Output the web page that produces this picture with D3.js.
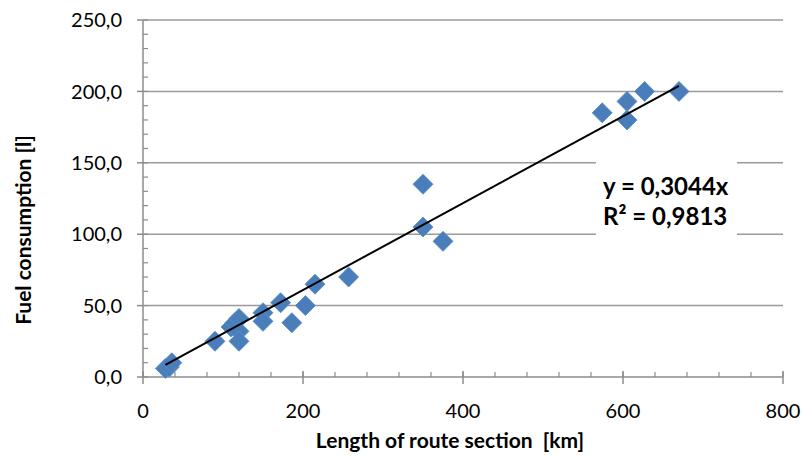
<!DOCTYPE html>
<html lang="en">
<head>
<meta charset="utf-8">
<script src="https://d3js.org/d3.v7.min.js"></script>
<style type="text/css">
body { margin: 0; background: #fff; }
.tick-label { font: 20px Lato, sans-serif; fill: #000; }
.axis-title { font: bold 21px Lato, sans-serif; fill: #000; white-space: pre; }
.eq { font: bold 24px Lato, sans-serif; fill: #000; }
</style>
</head>
<body>
<div id="chart"></div>
<script type="text/javascript">

// route length [km] and fuel used [l]
var routeKm = [28, 33, 36, 90, 110, 115, 120, 120, 120, 150, 150, 172, 186, 203, 215, 257, 350, 350, 375, 574, 605, 605, 627, 670];
var fuelL   = [6, 7, 10, 25, 35, 38, 41, 32, 25, 45, 39, 52, 38, 50, 65, 70, 135, 105, 95, 185, 193, 180, 200, 200];

var xTicks = [0, 200, 400, 600, 800];
var yTicks = [0, 50, 100, 150, 200, 250];
var xMinor = d3.range(0, 801, 40);
var yMinor = d3.range(0, 251, 10);

var slope = 0.3044;
var eqLines = ["y = 0,3044x", "R\u00b2 = 0,9813"];

var width = 802, height = 457;
var plotL = 143, plotR = 783, plotT = 20, plotB = 377;
var axisColor = "#8c8c8c";

var svg = d3.select("#chart").append("svg")
  .attr("width", width)
  .attr("height", height);

var x = d3.scaleLinear().domain([0, 800]).range([plotL, plotR]);
var y = d3.scaleLinear().domain([0, 250]).range([plotB, plotT]);

var fmt = function(d) { return d3.format(".1f")(d).replace(".", ","); };

// horizontal gridlines
svg.selectAll("line.grid")
  .data(yTicks.filter(function(d) { return d > 0; }))
  .enter().append("line")
  .attr("class", "grid")
  .attr("x1", plotL).attr("x2", plotR)
  .attr("y1", function(d) { return y(d); })
  .attr("y2", function(d) { return y(d); })
  .style("stroke", "#9a9a9a")
  .style("stroke-width", 1.5);

// minor ticks, inside the plot
svg.selectAll("line.ym")
  .data(yMinor)
  .enter().append("line")
  .attr("class", "ym")
  .attr("x1", plotL).attr("x2", plotL + 5)
  .attr("y1", function(d) { return y(d); })
  .attr("y2", function(d) { return y(d); })
  .style("stroke", axisColor).style("stroke-width", 1.2);

svg.selectAll("line.xm")
  .data(xMinor)
  .enter().append("line")
  .attr("class", "xm")
  .attr("x1", function(d) { return x(d); })
  .attr("x2", function(d) { return x(d); })
  .attr("y1", plotB).attr("y2", plotB - 5)
  .style("stroke", axisColor).style("stroke-width", 1.2);

// major ticks
svg.selectAll("line.yM")
  .data(yTicks)
  .enter().append("line")
  .attr("class", "yM")
  .attr("x1", plotL - 6).attr("x2", plotL)
  .attr("y1", function(d) { return y(d); })
  .attr("y2", function(d) { return y(d); })
  .style("stroke", axisColor).style("stroke-width", 1.5);

svg.selectAll("line.xM")
  .data(xTicks)
  .enter().append("line")
  .attr("class", "xM")
  .attr("x1", function(d) { return x(d); })
  .attr("x2", function(d) { return x(d); })
  .attr("y1", plotB - 6).attr("y2", plotB + 7)
  .style("stroke", axisColor).style("stroke-width", 1.5);

// axis lines
svg.append("line")
  .attr("x1", plotL).attr("x2", plotL).attr("y1", plotT).attr("y2", plotB)
  .style("stroke", axisColor).style("stroke-width", 1.5);
svg.append("line")
  .attr("x1", plotL).attr("x2", plotR).attr("y1", plotB).attr("y2", plotB)
  .style("stroke", axisColor).style("stroke-width", 1.5);

// tick labels
svg.selectAll("text.yl")
  .data(yTicks)
  .enter().append("text")
  .attr("class", "tick-label yl")
  .attr("x", 122)
  .attr("y", function(d) { return y(d); })
  .attr("dy", "0.36em")
  .attr("text-anchor", "end")
  .text(fmt);

svg.selectAll("text.xl")
  .data(xTicks)
  .enter().append("text")
  .attr("class", "tick-label xl")
  .attr("x", function(d) { return x(d); })
  .attr("y", 418)
  .attr("text-anchor", "middle")
  .text(function(d) { return d; });

// axis titles
svg.append("text")
  .attr("class", "axis-title")
  .attr("x", 450).attr("y", 448)
  .attr("text-anchor", "middle")
  .text("Length of route section  [km]");

svg.append("text")
  .attr("class", "axis-title")
  .attr("transform", "translate(31,230) rotate(-90)")
  .attr("text-anchor", "middle")
  .text("Fuel consumption [l]");

// markers
var diamond = d3.symbol().type(d3.symbolSquare).size(200);
svg.selectAll("path.pt")
  .data(routeKm)
  .enter().append("path")
  .attr("class", "pt")
  .attr("d", diamond)
  .attr("transform", function(d, i) {
    return "translate(" + x(d) + "," + y(fuelL[i]) + ") rotate(45)";
  })
  .style("fill", "#4a7ebb")
  .style("stroke", "#5b8cc6")
  .style("stroke-width", 0.8);

// linear trend through the origin
var ext = d3.extent(routeKm);
var line = d3.line()
  .x(function(d) { return x(d); })
  .y(function(d) { return y(slope * d); });
svg.append("path")
  .datum(ext)
  .attr("d", line)
  .style("fill", "none")
  .style("stroke", "#000")
  .style("stroke-width", 2);

// equation label
svg.append("rect")
  .attr("x", 596).attr("y", 158)
  .attr("width", 141).attr("height", 80)
  .style("fill", "#fff");

svg.selectAll("text.eq")
  .data(eqLines)
  .enter().append("text")
  .attr("class", "eq")
  .attr("x", 603)
  .attr("y", function(d, i) { return 195 + i * 30; })
  .text(function(d) { return d; });

</script>
</body>
</html>
